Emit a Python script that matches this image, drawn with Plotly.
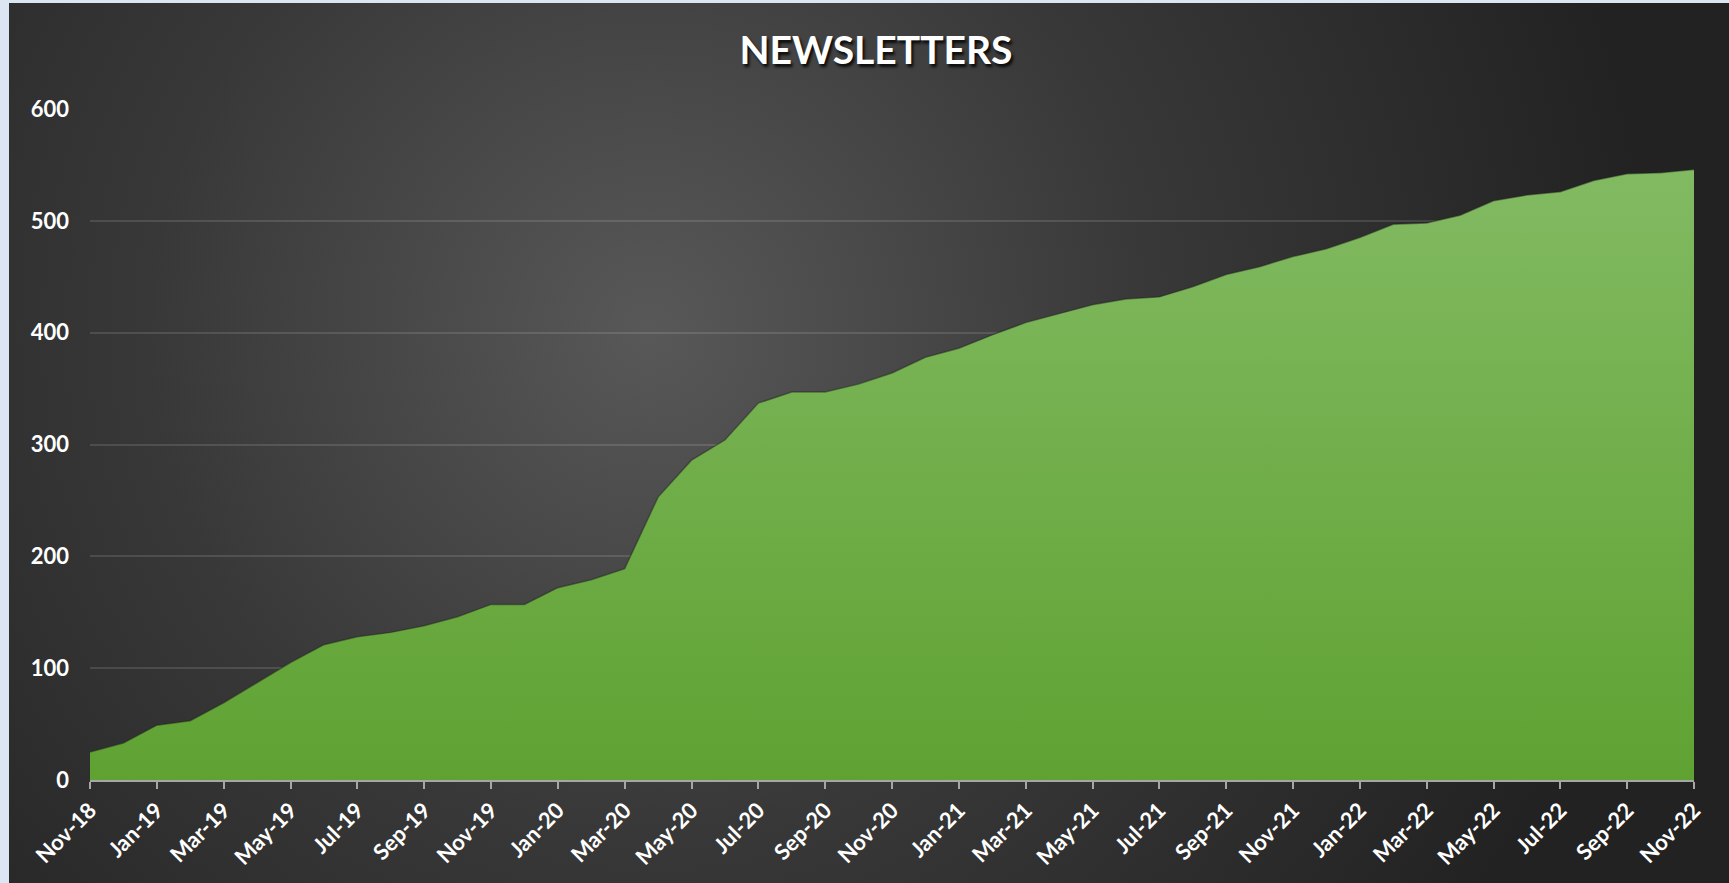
import base64
import plotly.graph_objects as go

months = ["Nov-18", "Dec-18", "Jan-19", "Feb-19", "Mar-19", "Apr-19", "May-19", "Jun-19",
          "Jul-19", "Aug-19", "Sep-19", "Oct-19", "Nov-19", "Dec-19", "Jan-20", "Feb-20",
          "Mar-20", "Apr-20", "May-20", "Jun-20", "Jul-20", "Aug-20", "Sep-20", "Oct-20",
          "Nov-20", "Dec-20", "Jan-21", "Feb-21", "Mar-21", "Apr-21", "May-21", "Jun-21",
          "Jul-21", "Aug-21", "Sep-21", "Oct-21", "Nov-21", "Dec-21", "Jan-22", "Feb-22",
          "Mar-22", "Apr-22", "May-22", "Jun-22", "Jul-22", "Aug-22", "Sep-22", "Oct-22",
          "Nov-22"]
newsletters = [25, 33, 49, 53, 69, 87, 105, 121,
               128, 132, 138, 146, 157, 157, 172, 179,
               189, 253, 286, 304, 337, 347, 347, 354,
               364, 378, 386, 398, 409, 417, 425, 430,
               432, 441, 452, 459, 468, 475, 485, 497,
               498, 505, 518, 523, 526, 536, 542, 543,
               546]
y_ticks = [0, 100, 200, 300, 400, 500, 600]
x_tick_labels = months[::2]

W, H = 1729, 883
ML, MR, MT, MB = 90, 35, 109, 103
PW, PH = W - ML - MR, H - MT - MB

svg = f'''<svg xmlns="http://www.w3.org/2000/svg" width="{W}" height="{H}" viewBox="0 0 {W} {H}" preserveAspectRatio="none">
<defs><radialGradient id="g" gradientUnits="userSpaceOnUse" cx="650" cy="330" r="1000">
<stop offset="0" stop-color="#585858"/><stop offset="0.5" stop-color="#383838"/><stop offset="1" stop-color="#222222"/>
</radialGradient></defs>
<rect x="0" y="0" width="{W}" height="{H}" fill="#dce6f2"/>
<rect x="9" y="3" width="{W-9}" height="{H-3}" fill="url(#g)"/>
</svg>'''
bg_src = "data:image/svg+xml;base64," + base64.b64encode(svg.encode()).decode()

fig = go.Figure()
fig.add_trace(go.Scatter(
    x=months, y=newsletters, mode="lines", fill="tozeroy",
    line=dict(color="rgba(30,30,30,0.45)", width=1.5),
    fillgradient=dict(type="vertical", colorscale=[[0, "#5fa232"], [1, "#82ba62"]]),
    hoverinfo="x+y", showlegend=False,
))

font_family = "Lato, 'Open Sans', sans-serif"
fig.update_layout(
    width=W, height=H,
    margin=dict(l=ML, r=MR, t=MT, b=MB, autoexpand=False),
    paper_bgcolor="#dce6f2",
    plot_bgcolor="rgba(0,0,0,0)",
    images=[dict(source=bg_src, xref="paper", yref="paper",
                 x=-ML / PW, y=1 + MT / PH, sizex=W / PW, sizey=H / PH,
                 xanchor="left", yanchor="top", layer="below", sizing="stretch")],
    title=dict(text="<b>NEWSLETTERS</b>", x=876 / W, xanchor="center",
               y=1 - 50 / H, yanchor="middle",
               font=dict(family=font_family, size=39, color="white",
                         shadow="2px 3px 3px rgba(0,0,0,0.85)")),
    xaxis=dict(type="category", range=[0, len(months) - 1],
               tickmode="array", tickvals=x_tick_labels, ticktext=x_tick_labels,
               tickangle=-45, showgrid=False, showline=True, linecolor="#a6a6a6", linewidth=1.5,
               ticks="outside", ticklen=7, tickwidth=1.5, tickcolor="#a6a6a6",
               tickfont=dict(family=font_family, size=22, color="white", weight="bold"),
               zeroline=False, fixedrange=True, automargin=False),
    yaxis=dict(range=[0, 600], tickvals=y_ticks, showgrid=True,
               gridcolor="rgba(255,255,255,0.12)", gridwidth=1.5,
               zeroline=False, showline=False, ticks="", ticklabelstandoff=20,
               tickfont=dict(family=font_family, size=22, color="white", weight="bold"),
               fixedrange=True, automargin=False),
)
fig.write_html(
    "out.html",
    config={"displayModeBar": False},
    post_script="document.body.style.margin='0';document.body.style.background='#dce6f2';",
)
